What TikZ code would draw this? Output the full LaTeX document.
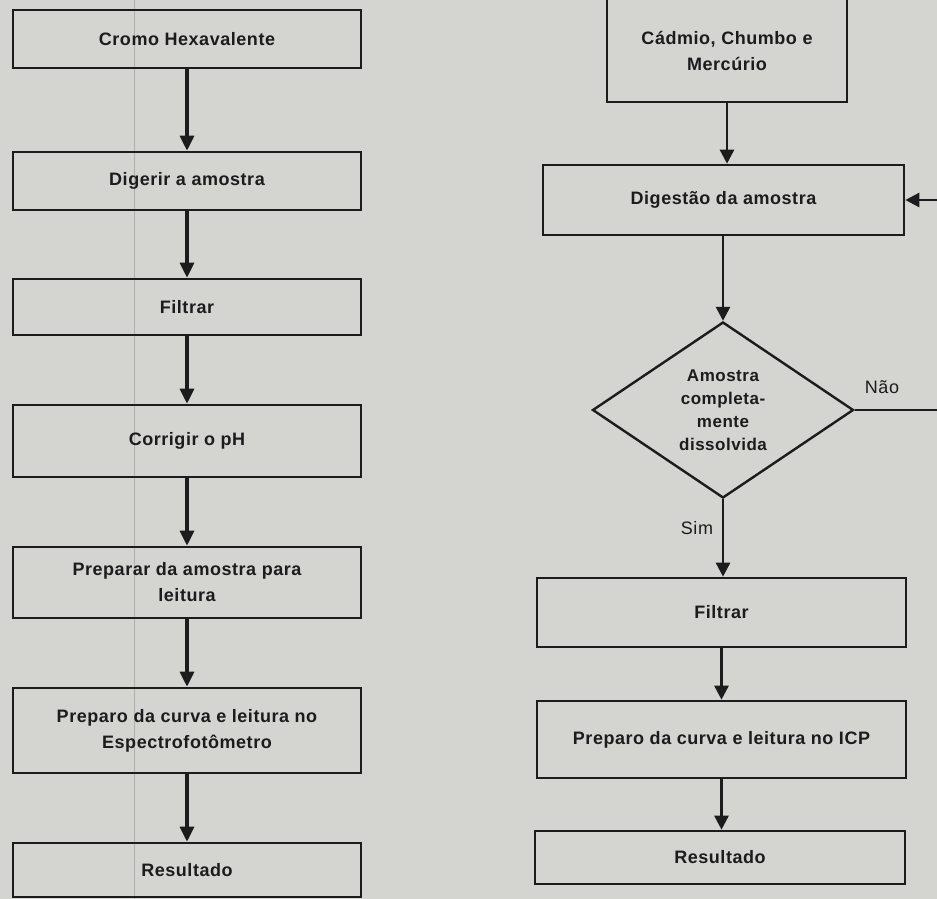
\documentclass[tikz,border=0pt]{standalone}
\usepackage{fontspec}
\setmainfont{Liberation Sans}[LetterSpace=3]
\usetikzlibrary{arrows.meta,shapes.geometric}
\definecolor{paper}{RGB}{212,212,209}
\definecolor{ink}{RGB}{28,28,28}
\definecolor{fold}{RGB}{175,175,172}
\begin{document}
\begin{tikzpicture}[x=1pt,y=-1pt,
  box/.style={draw=ink,line width=2.6pt,text=ink,align=center,inner sep=2pt,
    font=\fontsize{18}{26}\selectfont\bfseries},
  dec/.style={draw=ink,line width=2.4pt,shape=diamond,aspect=1.48,inner sep=0pt,
    minimum width=261pt,minimum height=176pt,text=ink,align=center,
    font=\fontsize{17}{23}\selectfont\bfseries},
  lab/.style={text=ink,font=\fontsize{18}{20}\selectfont},
  arrL/.style={draw=ink,line width=3.2pt,-{Triangle[length=15pt,width=14pt]}},
  arrR/.style={draw=ink,line width=2.6pt,-{Triangle[length=14pt,width=14pt]}},
  plain/.style={draw=ink,line width=2.4pt}
]
\fill[paper] (0,0) rectangle (937,899);
\useasboundingbox (0,0) rectangle (937,899);
\draw[fold,line width=0.8pt] (134,0) -- (134,899);

% left column
\node[box,minimum width=348pt,minimum height=58pt] (l1) at (187,39) {Cromo Hexavalente};
\node[box,minimum width=348pt,minimum height=58pt] (l2) at (187,181) {Digerir a amostra};
\node[box,minimum width=348pt,minimum height=56pt] (l3) at (187,307) {Filtrar};
\node[box,minimum width=348pt,minimum height=72pt] (l4) at (187,441) {Corrigir o pH};
\node[box,minimum width=348pt,minimum height=71pt] (l5) at (187,582.5) {Preparar da amostra para\\leitura};
\node[box,minimum width=348pt,minimum height=85pt] (l6) at (187,730.5) {Preparo da curva e leitura no\\Espectrofotômetro};
\node[box,minimum width=348pt,minimum height=54pt] (l7) at (187,870) {Resultado};

\draw[arrL] (l1) -- (l2);
\draw[arrL] (l2) -- (l3);
\draw[arrL] (l3) -- (l4);
\draw[arrL] (l4) -- (l5);
\draw[arrL] (l5) -- (l6);
\draw[arrL] (l6) -- (l7);

% right column
\node[box,minimum width=240pt,minimum height=103pt] (r1) at (727,50.5) {Cádmio, Chumbo e\\Mercúrio};
\node[box,minimum width=361pt,minimum height=70pt] (r2) at (723.5,200) {Digestão da amostra};
\node[dec] (d) at (723,410) {Amostra\\completa-\\mente\\dissolvida};
\node[box,minimum width=369pt,minimum height=69pt] (r3) at (721.5,612.5) {Filtrar};
\node[box,minimum width=369pt,minimum height=77pt] (r4) at (721.5,739.5) {Preparo da curva e leitura no ICP};
\node[box,minimum width=370pt,minimum height=53pt] (r5) at (720,857.5) {Resultado};

\draw[arrR] (r1.south) -- (r1.south |- r2.north);
\draw[arrR] (r2.south -| d.north) -- (d.north);
\draw[arrR] (d.south) -- (d.south |- r3.north);
\draw[arrR] (r3.south) -- (r3.south |- r4.north);
\draw[arrR] (r4.south) -- (r4.south |- r5.north);

\coordinate (loop) at (943,410);
\draw[plain] (d.east) -- (loop);
\draw[arrR] (loop) |- (r2.east);

\node[lab] (nao) at (882,387) {Não};
\node[lab] (sim) at (697,528) {Sim};
\end{tikzpicture}
\end{document}
